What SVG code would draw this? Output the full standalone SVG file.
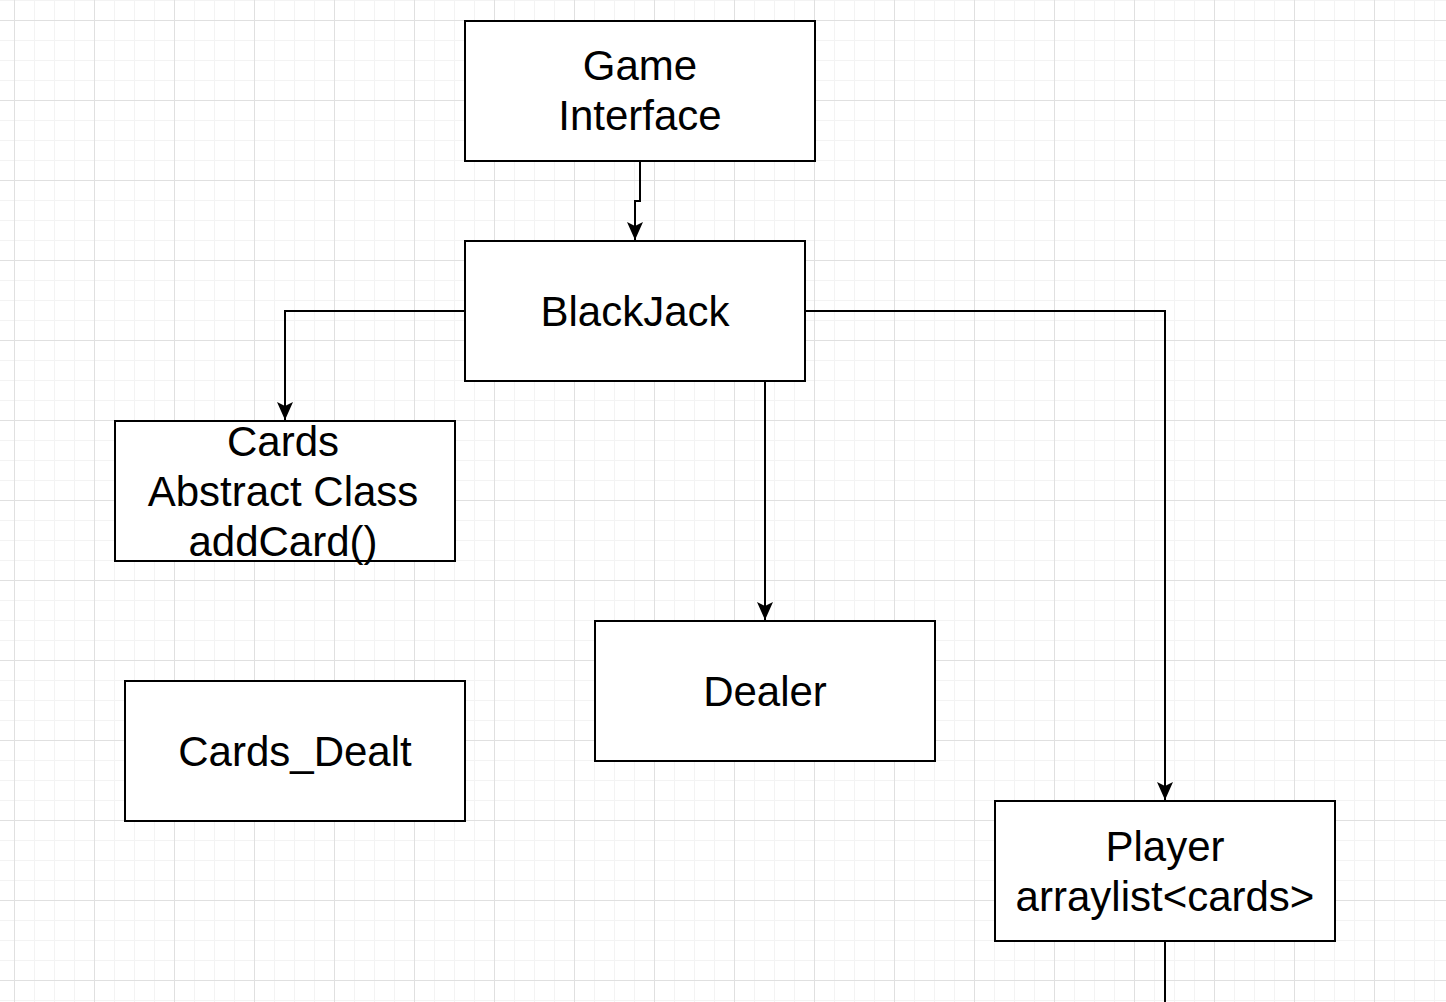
<svg xmlns="http://www.w3.org/2000/svg" width="1446" height="1002" viewBox="0 0 1446 1002">
<defs>
<pattern id="minor" x="14" y="0" width="20" height="20" patternUnits="userSpaceOnUse">
<path d="M0.5 0V20M0 0.5H20" fill="none" stroke="#f3f3f3" stroke-width="1"/>
</pattern>
<pattern id="major" x="14" y="20" width="80" height="80" patternUnits="userSpaceOnUse">
<path d="M0.5 0V80M0 0.5H80" fill="none" stroke="#e0e0e0" stroke-width="1"/>
</pattern>
<marker id="arr" viewBox="0 0 18 16" refX="18" refY="8" markerWidth="18" markerHeight="16" markerUnits="userSpaceOnUse" orient="auto">
<path d="M0 0L18 8L0 16L4 8Z" fill="#000"/>
</marker>
</defs>
<style>
.box{fill:#fff;stroke:#000;stroke-width:2}
.lbl{font-family:"Liberation Sans",Arial,sans-serif;font-size:42px;fill:#000;text-anchor:middle;dominant-baseline:central}
.edge{fill:none;stroke:#000;stroke-width:2}
</style>
<rect width="1446" height="1002" fill="#fff"/>
<rect width="1446" height="1002" fill="url(#minor)"/>
<rect width="1446" height="1002" fill="url(#major)"/>
<g id="connectors">
<path class="edge" d="M640 161V201H635V240" marker-end="url(#arr)"/>
<path class="edge" d="M465 311H285V420" marker-end="url(#arr)"/>
<path class="edge" d="M765 381V620" marker-end="url(#arr)"/>
<path class="edge" d="M805 311H1165V800" marker-end="url(#arr)"/>
<path class="edge" d="M1165 941V1002"/>
</g>
<g id="game-interface">
<rect class="box" x="465" y="21" width="350" height="140"/>
<text class="lbl" x="640" y="65">Game</text>
<text class="lbl" x="640" y="115">Interface</text>
</g>
<g id="blackjack">
<rect class="box" x="465" y="241" width="340" height="140"/>
<text class="lbl" x="635" y="311">BlackJack</text>
</g>
<g id="cards">
<rect class="box" x="115" y="421" width="340" height="140"/>
<text class="lbl" x="283" y="441">Cards</text>
<text class="lbl" x="283" y="491">Abstract Class</text>
<text class="lbl" x="283" y="541">addCard()</text>
</g>
<g id="cards-dealt">
<rect class="box" x="125" y="681" width="340" height="140"/>
<text class="lbl" x="295" y="751">Cards_Dealt</text>
</g>
<g id="dealer">
<rect class="box" x="595" y="621" width="340" height="140"/>
<text class="lbl" x="765" y="691">Dealer</text>
</g>
<g id="player">
<rect class="box" x="995" y="801" width="340" height="140"/>
<text class="lbl" x="1165" y="846">Player</text>
<text class="lbl" x="1165" y="896">arraylist&lt;cards&gt;</text>
</g>
</svg>
